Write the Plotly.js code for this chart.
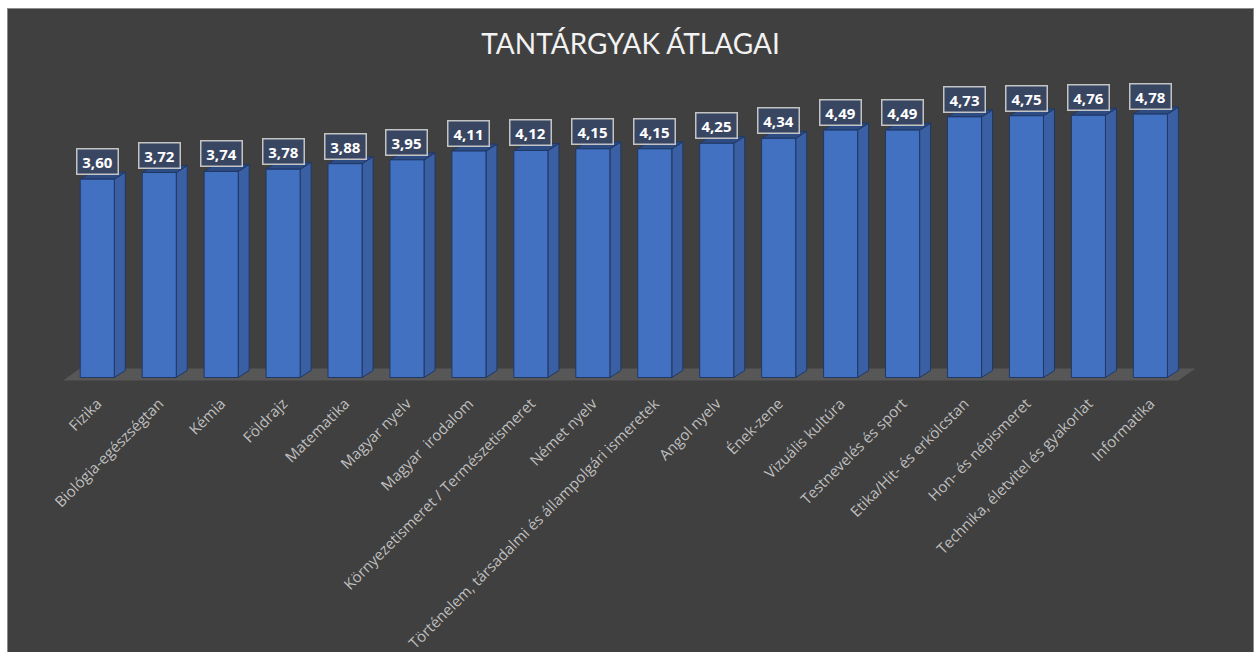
<!DOCTYPE html>
<html>
<head>
<meta charset="utf-8">
<script src="https://cdn.plot.ly/plotly-3.0.1.min.js"></script>
<style>
  html, body { margin: 0; padding: 0; background: #ffffff; overflow: hidden; }
  #frame { position: absolute; left: 7px; top: 8px; width: 1245px; height: 660px;
           border: 1px solid #8c8c8c; border-bottom: none; background: #404040; }
  #chart { width: 1245px; height: 644px; }
</style>
</head>
<body>
<div id="frame"><div id="chart"></div></div>
<script>
// ---- data ----
const categories = [
  "Fizika",
  "Biológia-egészségtan",
  "Kémia",
  "Földrajz",
  "Matematika",
  "Magyar nyelv",
  "Magyar \u00a0irodalom",
  "Környezetismeret / Természetismeret",
  "Német nyelv",
  "Történelem, társadalmi és állampolgári ismeretek",
  "Angol nyelv",
  "Ének-zene",
  "Vizuális kultúra",
  "Testnevelés és sport",
  "Etika/Hit- és erkölcstan",
  "Hon- és népismeret",
  "Technika, életvitel és gyakorlat",
  "Informatika"
];
const values = [3.60, 3.72, 3.74, 3.78, 3.88, 3.95, 4.11, 4.12, 4.15, 4.15, 4.25, 4.34, 4.49, 4.49, 4.73, 4.75, 4.76, 4.78];
const chartTitle = "TANTÁRGYAK ÁTLAGAI";

// ---- styling / geometry ----
const idx = categories.map((c, i) => i);
const barW = 0.55;
const xRange = [-0.65, 17.85];
const yRange = [-0.1, 5.0];
const W = 1245, H = 644;
const margin = { l: 49, r: 50, t: 93, b: 270 };
const plotW = W - margin.l - margin.r;
const plotH = H - margin.t - margin.b;
const pxPerX = plotW / (xRange[1] - xRange[0]);
const pxPerY = plotH / (yRange[1] - yRange[0]);
const dx = 11 / pxPerX;   // depth offset in data units
const dy = 7 / pxPerY;

const frontColor = '#4371c2';
const sideColor = '#3a5fa3';
const topColor = '#2e4c84';
const edgeColor = '#203864';

const shapes = [];
// floor
const n = categories.length;
const fy0 = -3 / pxPerY, fy1 = 9 / pxPerY;
shapes.push({
  type: 'path', xref: 'x', yref: 'y', layer: 'below',
  path: `M ${-0.55},${fy0} L ${n - 1 + 0.45},${fy0} L ${n - 1 + 0.73},${fy1} L ${-0.28},${fy1} Z`,
  fillcolor: '#575757', line: { width: 0 }
});
idx.forEach((i) => {
  const v = values[i];
  const xl = i - barW / 2, xr = i + barW / 2;
  shapes.push({
    type: 'path', xref: 'x', yref: 'y', layer: 'below',
    path: `M ${xr},0 L ${xr + dx},${dy} L ${xr + dx},${v + dy} L ${xr},${v} Z`,
    fillcolor: sideColor, line: { color: edgeColor, width: 1 }
  });
  shapes.push({
    type: 'path', xref: 'x', yref: 'y', layer: 'below',
    path: `M ${xl},${v} L ${xr},${v} L ${xr + dx},${v + dy} L ${xl + dx},${v + dy} Z`,
    fillcolor: topColor, line: { color: edgeColor, width: 1 }
  });
});

const annotations = idx.map((i) => ({
  x: i, y: values[i], xref: 'x', yref: 'y',
  text: '<b>' + values[i].toFixed(2).replace('.', ',') + '</b>',
  showarrow: false, yanchor: 'bottom', xanchor: 'center', yshift: 4,
  font: { family: 'Open Sans, sans-serif', size: 15, color: '#ffffff' },
  bgcolor: 'rgba(56,70,100,0.92)', bordercolor: '#c4c4c4', borderwidth: 1.5,
  borderpad: 1.5, width: 37, height: 21
}));

const trace = {
  type: 'bar', x: idx, y: values, width: barW,
  marker: { color: frontColor, line: { color: edgeColor, width: 1 } },
  hoverinfo: 'skip'
};

const layout = {
  width: W, height: H, margin: margin,
  paper_bgcolor: '#404040', plot_bgcolor: 'rgba(0,0,0,0)',
  showlegend: false,
  title: {
    text: chartTitle, x: 0.5, xanchor: 'center', xref: 'container',
    y: 1 - 35 / H, yanchor: 'middle', yref: 'container',
    font: { family: 'Lato, sans-serif', size: 28, color: '#f2f2f2' }
  },
  xaxis: {
    type: 'linear', range: xRange, tickmode: 'array', tickvals: idx, ticktext: categories,
    tickangle: -45, showgrid: false, zeroline: false, showline: false, ticks: '',
    ticklabelstandoff: 8,
    tickfont: { family: 'Open Sans, sans-serif', size: 15, color: '#bfbfbf' },
    fixedrange: true
  },
  yaxis: {
    range: yRange, showgrid: false, zeroline: false, showline: false,
    showticklabels: false, ticks: '', fixedrange: true
  },
  shapes: shapes,
  annotations: annotations
};

Plotly.newPlot('chart', [trace], layout, { displayModeBar: false, staticPlot: true });
</script>
</body>
</html>
